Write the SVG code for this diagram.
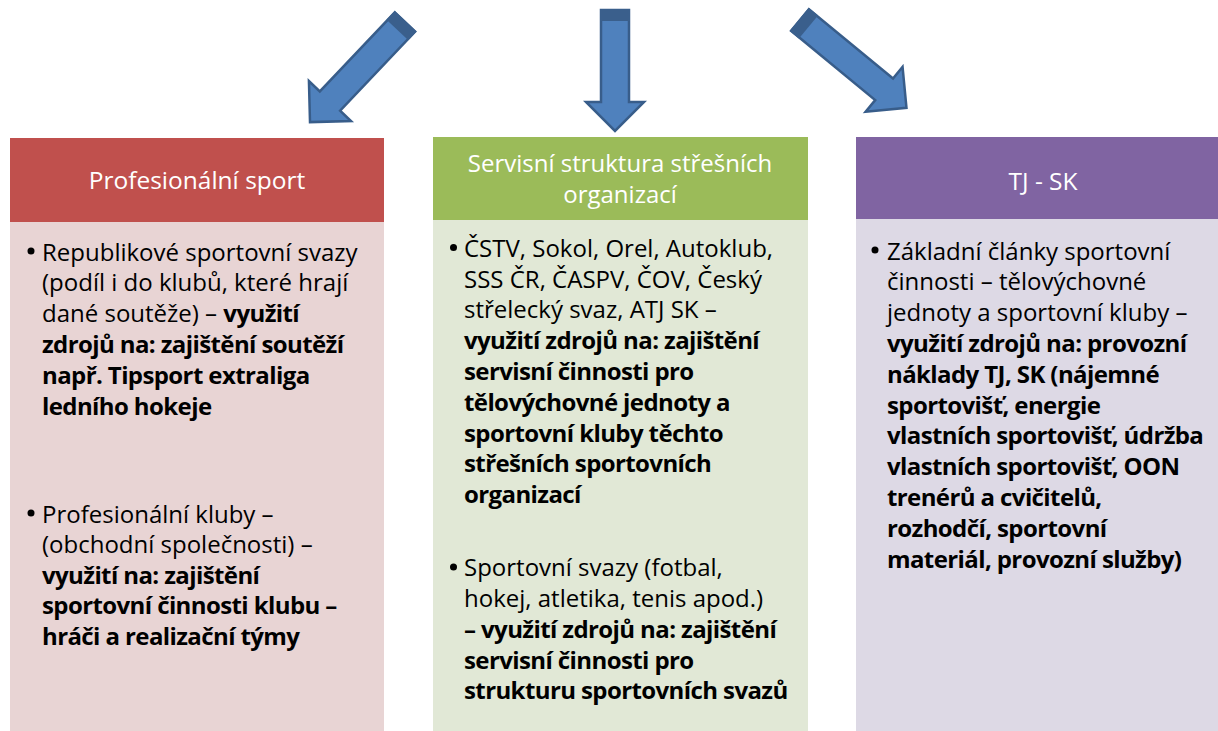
<svg xmlns="http://www.w3.org/2000/svg" width="1218" height="731" viewBox="0 0 1218 731">
<style>
.t{font-family:"Open Sans","Liberation Sans",sans-serif;font-size:24px;fill:#000}
.b{font-weight:bold;letter-spacing:-0.6px}
.h{font-family:"Open Sans","Liberation Sans",sans-serif;font-size:24.5px;fill:#fff;text-anchor:middle}
.h2{font-size:24px}
.arr{fill:#4F81BD;stroke:#385D8A;stroke-width:2.5;stroke-linejoin:miter}
.cap{fill:#3A5F8C}
</style>
<defs>
<g id="arrowDiag">
<polygon class="arr" points="-14,0 14,0 14,109 29,109 0,138 -29,109 -14,109"/>
<rect class="cap" x="-15" y="-1" width="30" height="12"/>
</g>
</defs>
<rect width="1218" height="731" fill="#fff"/>
<g id="connectors">
<use href="#arrowDiag" transform="translate(405,22) rotate(43.5)"/>
<g transform="translate(615,10)">
<polygon class="arr" points="-14,0 14,0 14,92 29,92 0,121 -29,92 -14,92"/>
<rect class="cap" x="-15" y="-1" width="30" height="12"/>
</g>
<use href="#arrowDiag" transform="translate(800,20) rotate(-50.5)"/>
</g>
<g id="node-profesionalni">
<rect x="10" y="138" width="374" height="600" fill="#E8D4D4"/>
<rect x="10" y="138" width="374" height="84" fill="#C0504D"/>
<text class="h" x="197" y="189">Profesionální sport</text>
<circle cx="31" cy="251" r="3.5"/>
<text class="t" x="42" y="260.5">Republikové sportovní svazy</text>
<text class="t" x="42" y="291.3">(podíl i do klubů, které hrají</text>
<text class="t" x="42" y="322.1">dané soutěže) – <tspan class="b">využití</tspan></text>
<text class="t b" x="42" y="352.9">zdrojů na: zajištění soutěží</text>
<text class="t b" x="42" y="383.7">např. Tipsport extraliga</text>
<text class="t b" x="42" y="414.5">ledního hokeje</text>
<circle cx="31" cy="513" r="3.5"/>
<text class="t" x="42" y="522.5">Profesionální kluby –</text>
<text class="t" x="42" y="553">(obchodní společnosti) –</text>
<text class="t b" x="42" y="583.5">využití na: zajištění</text>
<text class="t b" x="42" y="614">sportovní činnosti klubu –</text>
<text class="t b" x="42" y="644.5">hráči a realizační týmy</text>
</g>
<g id="node-servisni">
<rect x="433" y="137" width="375" height="600" fill="#E1E8D6"/>
<rect x="433" y="137" width="375" height="83" fill="#9BBB59"/>
<text class="h h2" x="620" y="172">Servisní struktura střešních</text>
<text class="h h2" x="620" y="203">organizací</text>
<circle cx="453.5" cy="247.5" r="3.5"/>
<text class="t" x="464" y="256.7">ČSTV, Sokol, Orel, Autoklub,</text>
<text class="t" x="464" y="287.5">SSS ČR, ČASPV, ČOV, Český</text>
<text class="t" x="464" y="318.3">střelecký svaz, ATJ SK –</text>
<text class="t b" x="464" y="349.1">využití zdrojů na: zajištění</text>
<text class="t b" x="464" y="379.9">servisní činnosti pro</text>
<text class="t b" x="464" y="410.7">tělovýchovné jednoty a</text>
<text class="t b" x="464" y="441.5">sportovní kluby těchto</text>
<text class="t b" x="464" y="472.3">střešních sportovních</text>
<text class="t b" x="464" y="503.1">organizací</text>
<circle cx="453.5" cy="567" r="3.5"/>
<text class="t" x="464" y="576.1">Sportovní svazy (fotbal,</text>
<text class="t" x="464" y="606.9">hokej, atletika, tenis apod.)</text>
<text class="t b" x="464" y="637.7">– využití zdrojů na: zajištění</text>
<text class="t b" x="464" y="668.5">servisní činnosti pro</text>
<text class="t b" x="464" y="699.3">strukturu sportovních svazů</text>
</g>
<g id="node-tjsk">
<rect x="856" y="137" width="374" height="600" fill="#DDD9E5"/>
<rect x="856" y="137" width="374" height="82" fill="#8064A2"/>
<text class="h" x="1043" y="190">TJ - SK</text>
<circle cx="875" cy="250" r="3.5"/>
<text class="t" x="887" y="259.5">Základní články sportovní</text>
<text class="t" x="887" y="290.3">činnosti – tělovýchovné</text>
<text class="t" x="887" y="321.1">jednoty a sportovní kluby –</text>
<text class="t b" x="887" y="351.9">využití zdrojů na: provozní</text>
<text class="t b" x="887" y="382.7">náklady TJ, SK (nájemné</text>
<text class="t b" x="887" y="413.5">sportovišť, energie</text>
<text class="t b" x="887" y="444.3">vlastních sportovišť, údržba</text>
<text class="t b" x="887" y="475.1">vlastních sportovišť, OON</text>
<text class="t b" x="887" y="505.9">trenérů a cvičitelů,</text>
<text class="t b" x="887" y="536.7">rozhodčí, sportovní</text>
<text class="t b" x="887" y="567.5">materiál, provozní služby)</text>
</g>
</svg>
